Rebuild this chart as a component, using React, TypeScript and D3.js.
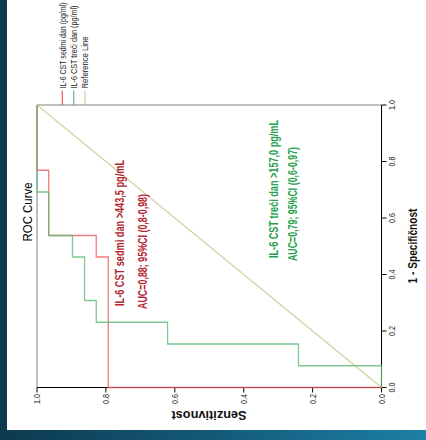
import React from "react";
import * as d3 from "d3";

// ROC data read from the (rotated) picture: false positive rate and sensitivity
const redFpr = [0, 0, 0.462, 0.462, 0.538, 0.538, 0.769, 0.769, 1];
const redSens = [0, 0.793, 0.793, 0.828, 0.828, 0.966, 0.966, 1, 1];
const greenFpr = [0, 0.077, 0.077, 0.154, 0.154, 0.231, 0.231, 0.308, 0.308, 0.462, 0.462, 0.538, 0.538, 0.692, 0.692, 1];
const greenSens = [0, 0, 0.241, 0.241, 0.621, 0.621, 0.828, 0.828, 0.862, 0.862, 0.897, 0.897, 0.966, 0.966, 1, 1];
const refFpr = [0, 1];
const refSens = [0, 1];
const tickValues = [0, 0.2, 0.4, 0.6, 0.8, 1.0];
const legendLabels = ["IL-6 CST sedmi dan (pg/ml)", "IL-6 CST treći dan (pg/ml)", "Reference Line"];
const redNote = ["IL-6 CST sedmi dan >443,5 pg/mL", "AUC=0,88; 95%CI (0,8-0,98)"];
const greenNote = ["IL-6 CST treći dan >157,0 pg/mL", "AUC=0,79; 95%CI (0,6-0,97)"];

const RED = "#ec5a5c";
const GREEN = "#5cbd78";
const REF = "#d2d0a2";
const FONT = "'Liberation Sans', Arial, sans-serif";

export default function App() {
  const L = 37, R = 381.5, T = 105, B = 387.5;
  // chart is rotated: sensitivity runs horizontally (1 at left), 1-specificity vertically
  const sx = d3.scaleLinear().domain([1, 0]).range([L, R]);
  const fy = d3.scaleLinear().domain([0, 1]).range([B, T]);

  const mk = (f: number[], s: number[]) =>
    d3.line<number>().x((_, i) => sx(s[i])).y((_, i) => fy(f[i]))(f.map((_, i) => i)) || "";

  const rot = (x: number, y: number, a = -90) => `translate(${x},${y}) rotate(${a})`;

  return (
    <svg width={426} height={440} style={{ position: "absolute", left: 0, top: 0 }}>
      <defs>
        <linearGradient id="bg" x1="0" x2="1" y1="0" y2="0">
          <stop offset="0" stopColor="#0d3a50" />
          <stop offset="0.5" stopColor="#145a78" />
          <stop offset="1" stopColor="#1d7fa6" />
        </linearGradient>
      </defs>
      <rect x={0} y={0} width={426} height={440} fill="url(#bg)" />
      <rect x={0} y={0} width={8} height={440} fill="#0d3a50" />
      <rect x={7} y={0} width={419} height={430} fill="#ffffff" />

      {/* title */}
      <text transform={rot(27, 212)} textAnchor="middle" dominantBaseline="central"
        fontFamily={FONT} fontSize={13.5} fill="#000" textLength={59} lengthAdjust="spacingAndGlyphs">ROC Curve</text>

      {/* legend */}
      {legendLabels.map((lab, i) => {
        const x = [62.3, 73.7, 85][i];
        const c = [RED, GREEN, REF][i];
        const len = [86, 83, 52][i];
        return (
          <g key={lab}>
            <line x1={x} x2={x} y1={90.5} y2={T} stroke={c} strokeWidth={1.2} />
            <text transform={`${rot(x, 88.5)} scale(1,1.35)`} textAnchor="start" dominantBaseline="central"
              fontFamily={FONT} fontSize={7} fill="#222" textLength={len} lengthAdjust="spacingAndGlyphs">{lab}</text>
          </g>
        );
      })}

      {/* frame */}
      <line x1={L} x2={R} y1={T} y2={T} stroke="#808080" strokeWidth={1} />
      <line x1={L} x2={L} y1={T} y2={B} stroke="#808080" strokeWidth={1} />
      {/* axes */}
      <line x1={L} x2={R} y1={B} y2={B} stroke="#000" strokeWidth={1} />
      <line x1={R} x2={R} y1={T} y2={B} stroke="#000" strokeWidth={1} />

      {/* bottom axis (sensitivity) */}
      {tickValues.map(v => (
        <g key={"s" + v}>
          <line x1={sx(v)} x2={sx(v)} y1={B} y2={B + 5} stroke="#000" />
          <text transform={rot(sx(v), 394)} textAnchor="end" dominantBaseline="central"
            fontFamily={FONT} fontSize={8.5} fill="#222" textLength={10} lengthAdjust="spacingAndGlyphs">{v.toFixed(1)}</text>
        </g>
      ))}
      <text transform={rot(209, 415, 180)} textAnchor="middle" dominantBaseline="central"
        fontFamily={FONT} fontSize={12} fontWeight="bold" fill="#111" textLength={75} lengthAdjust="spacingAndGlyphs">Senzitivnost</text>

      {/* right axis (1 - specificity) */}
      {tickValues.map(v => (
        <g key={"f" + v}>
          <line x1={R} x2={R + 5} y1={fy(v)} y2={fy(v)} stroke="#000" />
          <text transform={rot(391.5, fy(v))} textAnchor="middle" dominantBaseline="central"
            fontFamily={FONT} fontSize={8.5} fill="#222" textLength={10} lengthAdjust="spacingAndGlyphs">{v.toFixed(1)}</text>
        </g>
      ))}
      <text transform={rot(413, 246)} textAnchor="middle" dominantBaseline="central"
        fontFamily={FONT} fontSize={12} fontWeight="bold" fill="#111" textLength={75} lengthAdjust="spacingAndGlyphs">1 - Specifičnost</text>

      {/* curves */}
      <path d={mk(refFpr, refSens)} fill="none" stroke={REF} strokeWidth={1.2} />
      <path d={mk(redFpr, redSens)} fill="none" stroke={RED} strokeWidth={1.3} strokeOpacity={0.8} />
      <path d={mk(greenFpr, greenSens)} fill="none" stroke={GREEN} strokeWidth={1.3} strokeOpacity={0.8} />

      {/* annotations */}
      <text transform={rot(120, 306)} textAnchor="start" dominantBaseline="central"
        fontFamily={FONT} fontSize={12} fontWeight="bold" fill="#b3262f" textLength={146} lengthAdjust="spacingAndGlyphs">{redNote[0]}</text>
      <text transform={rot(142.5, 309)} textAnchor="start" dominantBaseline="central"
        fontFamily={FONT} fontSize={12} fontWeight="bold" fill="#b3262f" textLength={115} lengthAdjust="spacingAndGlyphs">{redNote[1]}</text>
      <text transform={rot(274, 258)} textAnchor="start" dominantBaseline="central"
        fontFamily={FONT} fontSize={12} fontWeight="bold" fill="#24a04c" textLength={138} lengthAdjust="spacingAndGlyphs">{greenNote[0]}</text>
      <text transform={rot(293, 261)} textAnchor="start" dominantBaseline="central"
        fontFamily={FONT} fontSize={12} fontWeight="bold" fill="#24a04c" textLength={114} lengthAdjust="spacingAndGlyphs">{greenNote[1]}</text>
    </svg>
  );
}
